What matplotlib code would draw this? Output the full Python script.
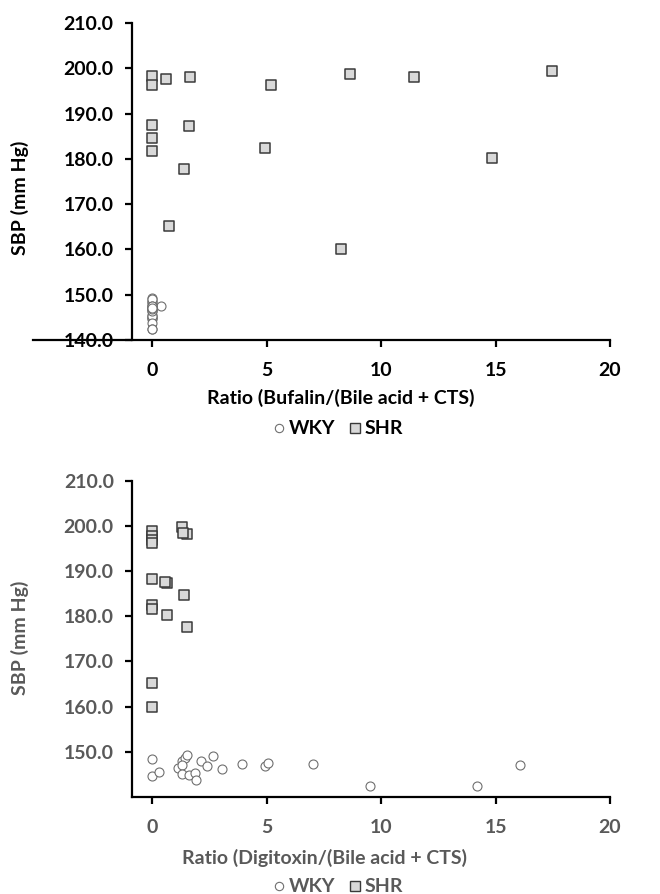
import matplotlib
matplotlib.use("Agg")
from matplotlib import pyplot as plt
from matplotlib.lines import Line2D

plt.rcParams['font.family'] = ['Lato', 'DejaVu Sans']
plt.rcParams['font.weight'] = 'bold'

# SBP values (mm Hg)
# top panel: Bufalin ratio
buf_wky_x = [0, 0, 0, 0, 0, 0, 0, 0, 0, 0, 0, 0.4, 0, 0, 0, 0, 0, 0, 0, 0, 0, 0, 0]
buf_wky_y = [148.4, 144.6, 145.5, 146.4, 148.0, 148.7, 149.3, 147.0, 145.0, 144.8, 145.4,
             147.6, 143.8, 146.9, 149.0, 146.3, 147.3, 146.9, 147.5, 147.4, 142.5, 142.4, 147.0]
buf_shr_x = [0, 0, 0.6, 1.65, 0, 0, 0, 1.6, 1.41, 4.92, 5.18, 8.66, 11.44, 17.48, 14.83, 0.74, 8.23]
buf_shr_y = [198.3, 196.4, 197.6, 198.1, 187.5, 184.6, 181.7, 187.3, 177.7, 182.5, 196.3,
             198.7, 198.1, 199.5, 180.2, 165.2, 160.0]

# bottom panel: Digitoxin ratio
dig_wky_x = [0, 0, 0.3, 1.1, 1.3, 1.4, 1.5, 1.3, 1.3, 1.6, 1.85, 1.9, 2.1, 2.4, 2.65, 3.05,
             3.9, 4.9, 5.05, 7.0, 9.5, 14.2, 16.05]
dig_wky_y = [148.4, 144.6, 145.5, 146.4, 148.0, 148.7, 149.3, 147.0, 145.0, 144.8, 145.4,
             143.8, 148.0, 146.9, 149.0, 146.3, 147.3, 146.9, 147.5, 147.4, 142.5, 142.4, 147.0]
dig_shr_x = [0, 0, 0, 0, 1.28, 1.49, 1.32, 0, 0.62, 0.55, 1.39, 0, 0, 0.62, 1.52, 0, 0]
dig_shr_y = [198.9, 197.8, 196.9, 196.2, 199.7, 198.2, 198.4, 188.2, 187.3, 187.6, 184.6,
             182.5, 181.5, 180.3, 177.7, 165.2, 160.0]

yticks_top = [140, 150, 160, 170, 180, 190, 200, 210]
yticks_bot = [150, 160, 170, 180, 190, 200, 210]
xticks = [0, 5, 10, 15, 20]

fig = plt.figure(figsize=(6.6, 8.94), dpi=100)
FS = 14


def panel(ax, wx, wy, sx, sy, xmin, yticks, color, xlabel, xl_pos, yl_pos, leg_pos):
    ax.scatter(wx, wy, s=42, marker='o', facecolor='white', edgecolor='#6f6f6f',
               linewidth=0.8, zorder=3, clip_on=False)
    ax.scatter(sx, sy, s=50, marker='s', facecolor='#d9d9d9', edgecolor='#3a3a3a',
               linewidth=1.1, zorder=3, clip_on=False)
    ax.set_xlim(xmin, 20)
    ax.set_ylim(140, 210)
    for s in ['top', 'right']:
        ax.spines[s].set_visible(False)
    ax.spines['left'].set_position(('data', -0.9))
    for s in ['left', 'bottom']:
        ax.spines[s].set_linewidth(1.6)
        ax.spines[s].set_color('black')
    ax.set_xticks(xticks)
    ax.set_xticklabels([str(t) for t in xticks])
    ax.set_yticks(yticks)
    ax.set_yticklabels(['%.1f' % t for t in yticks])
    ax.tick_params(axis='y', direction='out', length=5, width=1.6, pad=8,
                   labelsize=FS, labelcolor=color)
    ax.tick_params(axis='x', direction='out', length=5, width=1.6, pad=11,
                   labelsize=FS, labelcolor=color)
    ax.patch.set_alpha(0)
    fig.text(xl_pos[0], xl_pos[1], xlabel, ha='center', va='center', fontsize=FS,
             fontweight='bold', color=color)
    fig.text(yl_pos[0], yl_pos[1], 'SBP (mm Hg)', ha='center', va='center', fontsize=FS,
             fontweight='bold', color=color, rotation=90)
    handles = [Line2D([], [], marker='o', ls='none', markersize=6, markerfacecolor='white',
                      markeredgecolor='#6f6f6f', markeredgewidth=0.8),
               Line2D([], [], marker='s', ls='none', markersize=6.5, markerfacecolor='#d9d9d9',
                      markeredgecolor='#3a3a3a', markeredgewidth=1.0)]
    fig.legend(handles, ['WKY', 'SHR'], loc='center', bbox_to_anchor=leg_pos, ncol=2,
               frameon=False, fontsize=FS, handletextpad=0.0, columnspacing=0.5,
               handlelength=1.0, labelcolor=color)


W, H = 660, 894
ax1 = fig.add_axes([33.2 / W, 1 - 340 / H, (610 - 33.2) / W, 317 / H])
panel(ax1, buf_wky_x, buf_wky_y, buf_shr_x, buf_shr_y, -5.2, yticks_top, 'black',
      'Ratio (Bufalin/(Bile acid + CTS)', (341 / W, 1 - 398 / H), (20 / W, 1 - 198 / H),
      (336 / W, 1 - 429 / H))

ax2 = fig.add_axes([131.9 / W, 1 - 797 / H, (610 - 131.9) / W, 316.3 / H])
panel(ax2, dig_wky_x, dig_wky_y, dig_shr_x, dig_shr_y, -0.9, yticks_bot, '#595959',
      'Ratio (Digitoxin/(Bile acid + CTS)', (325 / W, 1 - 858 / H), (20 / W, 1 - 638 / H),
      (336 / W, 1 - 887 / H))

fig.savefig('out.png', dpi=100, facecolor='white')
